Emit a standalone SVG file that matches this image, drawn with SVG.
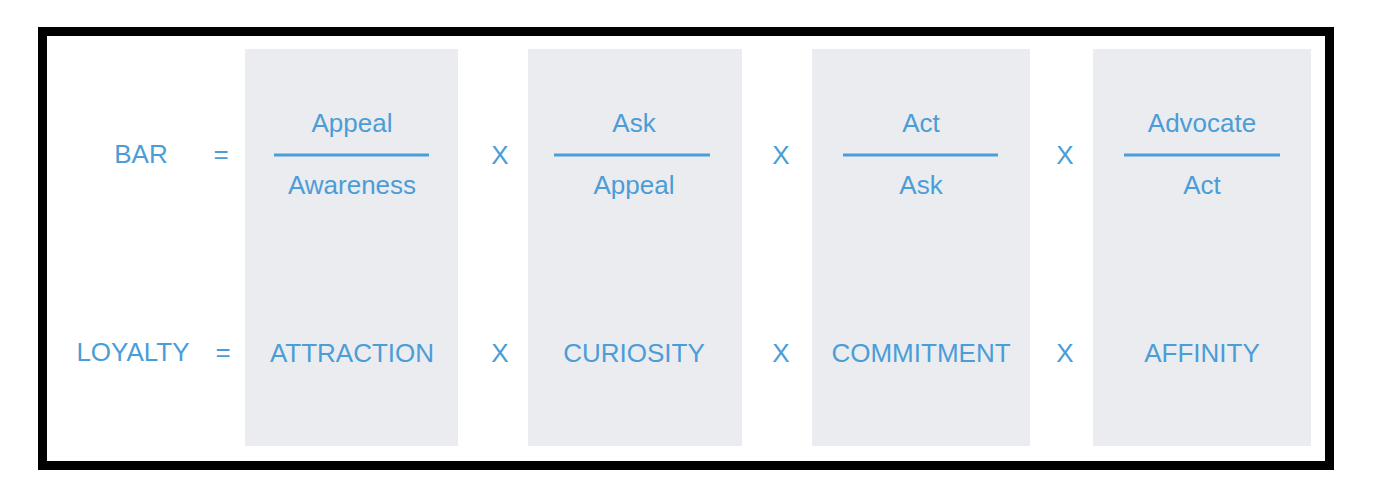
<svg xmlns="http://www.w3.org/2000/svg" width="1400" height="496" viewBox="0 0 1400 496">
<style>
.t{font-family:"Liberation Sans",Arial,sans-serif;font-size:26px;fill:#4a9dd7;text-anchor:middle}
.panel{fill:#ebecf0}
.bar{stroke:#4a9dd7;stroke-width:3}
</style>
<rect x="0" y="0" width="1400" height="496" fill="#ffffff"/>
<rect id="frame" x="42.5" y="31.5" width="1287" height="434" fill="#ffffff" stroke="#000000" stroke-width="9"/>
<g id="labels">
<text class="t" x="141" y="163">BAR</text>
<text class="t" x="221" y="163">=</text>
<text class="t" x="133" y="361">LOYALTY</text>
<text class="t" x="223" y="361">=</text>
</g>
<g id="panel-attraction">
<rect class="panel" x="245" y="49" width="213" height="397"/>
<text class="t" x="352" y="132">Appeal</text>
<line class="bar" x1="274" y1="155" x2="429" y2="155"/>
<text class="t" x="352" y="194">Awareness</text>
<text class="t" x="352" y="362">ATTRACTION</text>
</g>
<g id="panel-curiosity">
<rect class="panel" x="528" y="49" width="214" height="397"/>
<text class="t" x="634" y="132">Ask</text>
<line class="bar" x1="554" y1="155" x2="710" y2="155"/>
<text class="t" x="634" y="194">Appeal</text>
<text class="t" x="634" y="362">CURIOSITY</text>
</g>
<g id="panel-commitment">
<rect class="panel" x="812" y="49" width="218" height="397"/>
<text class="t" x="921" y="132">Act</text>
<line class="bar" x1="843" y1="155" x2="998" y2="155"/>
<text class="t" x="921" y="194">Ask</text>
<text class="t" x="921" y="362">COMMITMENT</text>
</g>
<g id="panel-affinity">
<rect class="panel" x="1093" y="49" width="218" height="397"/>
<text class="t" x="1202" y="132">Advocate</text>
<line class="bar" x1="1124" y1="155" x2="1280" y2="155"/>
<text class="t" x="1202" y="194">Act</text>
<text class="t" x="1202" y="362">AFFINITY</text>
</g>
<g id="operators">
<text class="t" x="500" y="164">X</text>
<text class="t" x="781" y="164">X</text>
<text class="t" x="1065" y="164">X</text>
<text class="t" x="500" y="362">X</text>
<text class="t" x="781" y="362">X</text>
<text class="t" x="1065" y="362">X</text>
</g>
</svg>
